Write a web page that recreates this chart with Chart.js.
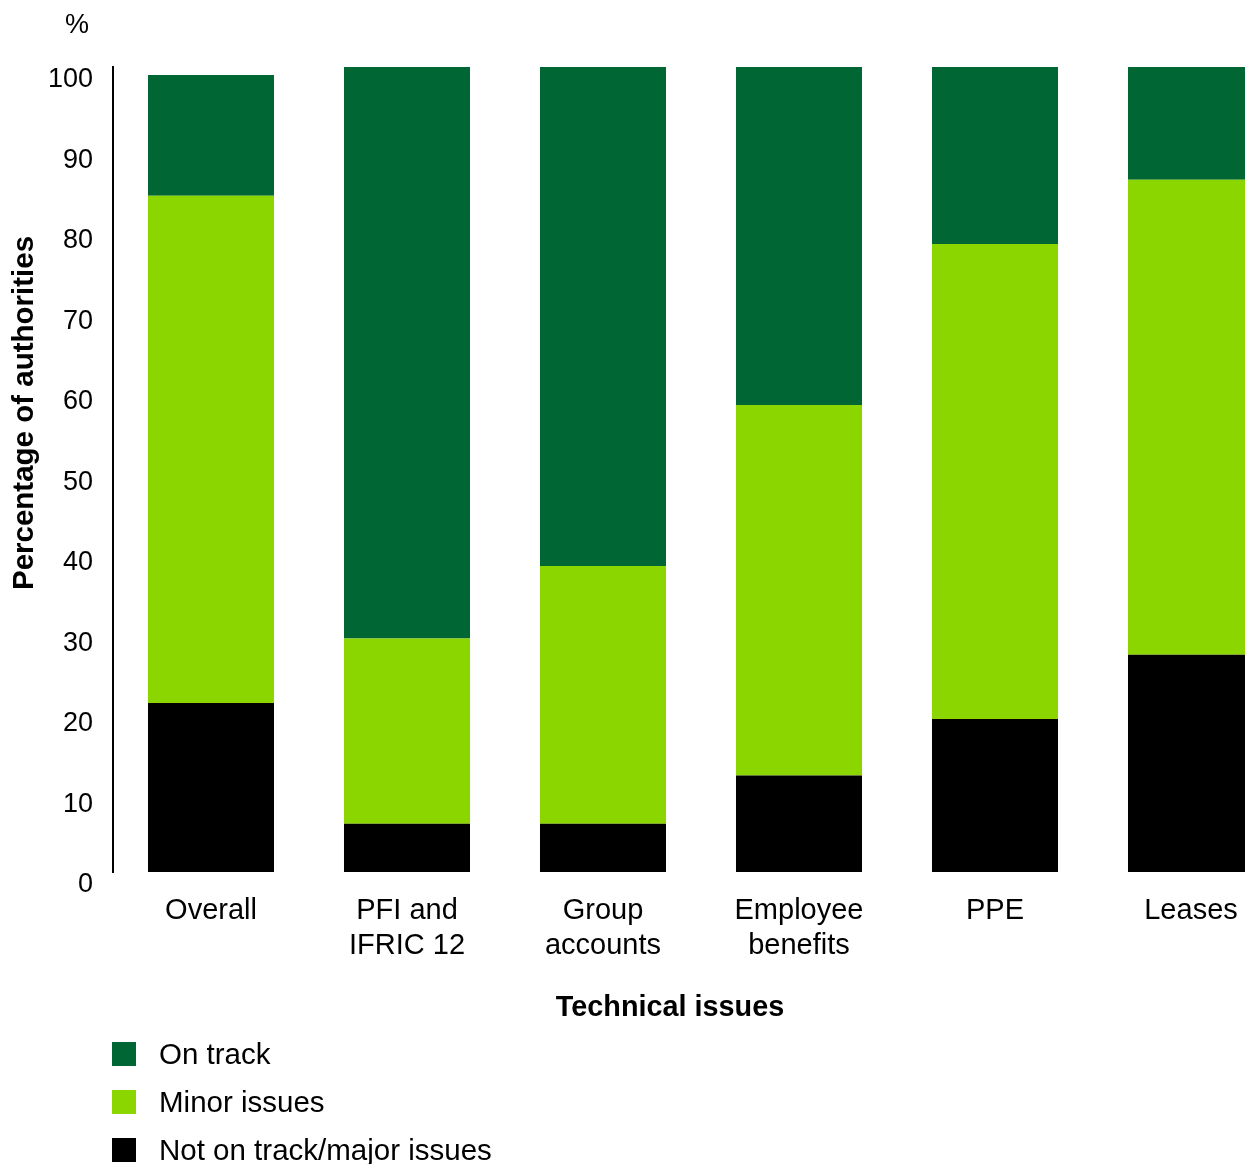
<!DOCTYPE html>
<html>
<head>
<meta charset="utf-8">
<script src="https://cdn.jsdelivr.net/npm/chart.js@4/dist/chart.umd.min.js"></script>
<style>
  html, body { margin: 0; padding: 0; background: #fff; }
  body { width: 1245px; height: 1164px; position: relative; overflow: hidden;
         font-family: "Liberation Sans", Arial, sans-serif; }
  #chart-container { position: absolute; left: 0; top: 0; width: 1300px; height: 1164px; }
  #legend { position: absolute; left: 112px; top: 1042px; }
  .item { display: flex; align-items: center; height: 24px; margin-bottom: 24px; font-size: 29.5px; color: #000; }
  .swatch { width: 24px; height: 24px; margin-right: 23px; flex: none; }
</style>
</head>
<body>
<div id="chart-container"><canvas id="chart"></canvas></div>
<div id="legend"></div>
<script>
const categories = [["Overall"], ["PFI and", "IFRIC 12"], ["Group", "accounts"], ["Employee", "benefits"], ["PPE"], ["Leases"]];
const notOnTrack = [21, 6, 6, 12, 19, 27];
const minorIssues = [63, 23, 32, 46, 59, 59];
const onTrack = [15, 71, 62, 42, 22, 14];
const yTicks = [0, 10, 20, 30, 40, 50, 60, 70, 80, 90, 100];

const FONT = '"Liberation Sans", Arial, sans-serif';
Chart.defaults.font.family = FONT;
Chart.defaults.color = "#000";

// titles and the "%" unit are drawn by hand so they sit where the original has them
const extraText = {
  id: "extraText",
  afterDraw(c) {
    const ctx = c.ctx;
    ctx.save();
    ctx.fillStyle = "#000";
    ctx.textAlign = "center";
    ctx.textBaseline = "middle";
    ctx.font = "27px " + FONT;
    ctx.fillText("%", 77, 26);
    ctx.font = "bold 28.8px " + FONT;
    ctx.fillText("Technical issues", 670, 1008);
    ctx.translate(25, 413);
    ctx.rotate(-Math.PI / 2);
    ctx.font = "bold 29.5px " + FONT;
    ctx.fillText("Percentage of authorities", 0, 0);
    ctx.restore();
  }
};

const myChart = new Chart(document.getElementById("chart"), {
  type: "bar",
  data: {
    labels: categories,
    datasets: [
      { label: "Not on track/major issues", data: notOnTrack, backgroundColor: "#000000" },
      { label: "Minor issues", data: minorIssues, backgroundColor: "#8cd600" },
      { label: "On track", data: onTrack, backgroundColor: "#006633" }
    ]
  },
  options: {
    responsive: true,
    maintainAspectRatio: false,
    animation: false,
    layout: { padding: { top: 67, left: 0, right: 11, bottom: 0 } },
    datasets: { bar: { categoryPercentage: 1, barPercentage: 0.643 } },
    plugins: { legend: { display: false }, tooltip: { enabled: false } },
    scales: {
      x: {
        stacked: true,
        grid: { display: false, drawTicks: false },
        border: { display: false },
        ticks: { font: { size: 29, lineHeight: 1.2 }, padding: 22, maxRotation: 0, autoSkip: false },
        afterFit(s) { s.height = 292; }
      },
      y: {
        stacked: true,
        min: 0,
        max: 100,
        afterBuildTicks(s) { s.ticks = yTicks.map(v => ({ value: v })); },
        grid: { display: false, drawTicks: false },
        border: { display: true, color: "#000", width: 2 },
        ticks: { font: { size: 27 }, padding: 20, labelOffset: 13 },
        afterFit(s) { s.width = 113; }
      }
    }
  },
  plugins: [extraText]
});

// vertical legend, top entry first
const legend = document.getElementById("legend");
myChart.data.datasets.slice().reverse().forEach(ds => {
  const item = document.createElement("div");
  item.className = "item";
  const sw = document.createElement("span");
  sw.className = "swatch";
  sw.style.background = ds.backgroundColor;
  const txt = document.createElement("span");
  txt.textContent = ds.label;
  item.appendChild(sw);
  item.appendChild(txt);
  legend.appendChild(item);
});
</script>
</body>
</html>
